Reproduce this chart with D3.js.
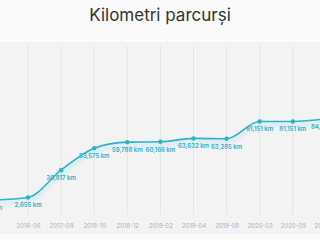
<!DOCTYPE html>
<html>
<head>
<meta charset="utf-8">
<script src="https://cdn.jsdelivr.net/npm/d3@7"></script>
<style>
  html, body { margin: 0; padding: 0; background: #fafafa; }
  svg { display: block; }
</style>
</head>
<body>
<svg id="chart"></svg>
<script>
const title = "Kilometri parcurși"
const dates = ["2016-03", "2016-06", "2017-09", "2018-10", "2018-12", "2019-02", "2019-04", "2019-08", "2020-03", "2020-09", "2021-03"]
const km = [0, 2655, 30817, 53575, 59788, 60166, 63632, 63285, 81151, 81151, 84012]

const w = 320
const h = 240
const data = dates.map((d, i) => ({ date: d, km: km[i] }))

const svg = d3.select('#chart')
  .attr('width', w)
  .attr('height', h)

// chart area
svg.append('rect')
  .attr('x', 0).attr('y', 42)
  .attr('width', w).attr('height', 192)
  .attr('fill', '#f3f3f3')

svg.append('text')
  .attr('x', w / 2)
  .attr('y', 21)
  .attr('text-anchor', 'middle')
  .style('font-family', 'Inter, "Open Sans", sans-serif')
  .style('font-size', '17px')
  .attr('fill', '#333')
  .text(title)

// scaling
const xScale = d3.scalePoint()
  .domain(dates)
  .range([-5.1, 325.9])

const yScale = d3.scaleLinear()
  .domain([0, 90000])
  .range([200, 112.9])

// vertical grid
svg.append('g')
  .selectAll('line')
  .data(dates)
  .join('line')
  .attr('x1', d => xScale(d)).attr('x2', d => xScale(d))
  .attr('y1', 46).attr('y2', 215)
  .attr('stroke', '#e4e4e4')
  .attr('stroke-width', 1)

// x axis (first label sits off the left edge, like the original)
const xAxis = d3.axisBottom(xScale).tickSize(0).tickPadding(0)
const gx = svg.append('g')
  .attr('transform', 'translate(0, 224)')
  .call(xAxis)
gx.select('.domain').remove()
gx.selectAll('text')
  .attr('fill', '#b0b0b0')
  .style('font-family', 'Inter, sans-serif')
  .style('font-size', '6px')
  .style('display', (d, i) => i === 0 ? 'none' : null)

// shadow under line
const defs = svg.append('defs')
const f = defs.append('filter').attr('id', 'glow')
  .attr('x', '-10%').attr('y', '-50%').attr('width', '120%').attr('height', '200%')
f.append('feDropShadow')
  .attr('dx', 0).attr('dy', 3).attr('stdDeviation', 2.5)
  .attr('flood-color', '#2ab3cc').attr('flood-opacity', 0.35)

const line = d3.line()
  .x(d => xScale(d.date))
  .y(d => yScale(d.km))
  .curve(d3.curveMonotoneX)

svg.append('path')
  .datum(data)
  .attr('d', line)
  .attr('fill', 'none')
  .attr('stroke', '#2cb3ca')
  .attr('stroke-width', 1.6)
  .attr('filter', 'url(#glow)')

svg.append('g')
  .selectAll('circle')
  .data(data)
  .join('circle')
  .attr('cx', d => xScale(d.date))
  .attr('cy', d => yScale(d.km))
  .attr('r', 2.2)
  .attr('fill', '#2cb3ca')

svg.append('g')
  .selectAll('text')
  .data(data)
  .join('text')
  .attr('x', d => xScale(d.date))
  .attr('y', d => yScale(d.km) + 10)
  .attr('text-anchor', 'middle')
  .attr('fill', '#2aaec6')
  .style('font-family', 'Inter, sans-serif')
  .style('font-size', '6px')
  .style('font-weight', 600)
  .text(d => d3.format(',')(d.km) + ' km')
</script>
</body>
</html>
